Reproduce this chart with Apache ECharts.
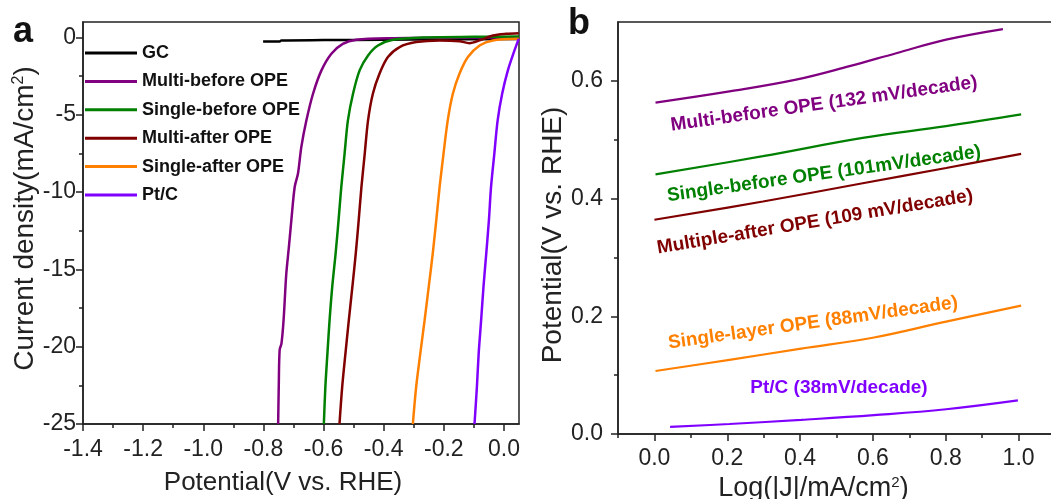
<!DOCTYPE html>
<html>
<head>
<meta charset="utf-8">
<script src="https://cdn.jsdelivr.net/npm/echarts@6/dist/echarts.min.js"></script>
<style>
  html, body { margin: 0; padding: 0; background: #fff; }
  #chart { width: 1051px; height: 499px; }
</style>
</head>
<body>
<div id="chart"></div>
<script>
// ---- panel a: polarization curves (potential V vs. RHE, current mA/cm2)
const lsvNames = ['GC', 'Multi-before OPE', 'Single-before OPE', 'Multi-after OPE', 'Single-after OPE', 'Pt/C']
const lsvColors = ['#000000', '#800080', '#008000', '#800000', '#ff8000', '#8000ff']

const gcV = [-0.801, -0.746, -0.740, -0.6, -0.4, -0.2, 0.05]
const gcJ = [-0.26, -0.26, -0.19, -0.17, -0.15, -0.12, -0.1]

const multiBeforeV = [-0.751, -0.749, -0.746, -0.740, -0.733, -0.724, -0.715, -0.707, -0.696, -0.685, -0.674, -0.657, -0.635, -0.607, -0.574, -0.536, -0.491, -0.369, -0.2, 0.05]
const multiBeforeJ = [-25, -22.6, -20.2, -19.8, -18.3, -15.3, -13.5, -11.8, -9.67, -8.8, -7.09, -5.36, -3.64, -2.13, -1.05, -0.41, -0.15, -0.05, -0.02, 0]

const singleBeforeV = [-0.599, -0.594, -0.587, -0.580, -0.571, -0.560, -0.550, -0.541, -0.530, -0.519, -0.502, -0.480, -0.452, -0.419, -0.369, -0.258, -0.1, 0.05]
const singleBeforeJ = [-25, -22.6, -20.4, -18.3, -16.1, -14.0, -11.8, -9.67, -7.51, -5.36, -3.64, -2.13, -1.16, -0.52, -0.15, 0, 0.04, 0.06]

const multiAfterV = [-0.547, -0.538, -0.527, -0.516, -0.504, -0.493, -0.483, -0.474, -0.463, -0.452, -0.436, -0.414, -0.386, -0.347, -0.292, -0.214, -0.148, -0.115, -0.081, -0.037, 0.007, 0.049]
const multiAfterJ = [-25, -22.6, -20.4, -18.3, -16.1, -14.0, -11.8, -9.67, -7.51, -5.36, -3.64, -2.35, -1.27, -0.62, -0.30, -0.19, -0.24, -0.37, -0.19, 0.13, 0.24, 0.28]

const singleAfterV = [-0.303, -0.292, -0.278, -0.264, -0.250, -0.237, -0.225, -0.214, -0.201, -0.187, -0.170, -0.148, -0.120, -0.081, -0.037, 0.049]
const singleAfterJ = [-25, -22.6, -20.4, -18.3, -16.1, -14.0, -11.8, -9.67, -7.51, -5.36, -3.64, -2.35, -1.27, -0.52, -0.19, -0.09]

const ptcV = [-0.098, -0.090, -0.084, -0.076, -0.068, -0.059, -0.050, -0.043, -0.032, -0.021, -0.006, 0.013, 0.035, 0.049]
const ptcJ = [-25, -22.6, -20.4, -18.3, -16.1, -14.0, -11.8, -9.67, -7.51, -5.36, -3.64, -2.13, -0.84, -0.09]

const aXTicks = [-1.4, -1.2, -1.0, -0.8, -0.6, -0.4, -0.2, 0.0]
const aXMinor = [-1.3, -1.1, -0.9, -0.7, -0.5, -0.3, -0.1]
const aYTicks = [-25, -20, -15, -10, -5, 0]
const aYMinor = [-22.5, -17.5, -12.5, -7.5, -2.5]

// ---- panel b: Tafel plots (log|J| vs potential)
const tafelNames = [
  'Multi-before OPE (132 mV/decade)',
  'Single-before OPE (101mV/decade)',
  'Multiple-after OPE (109 mV/decade)',
  'Single-layer OPE (88mV/decade)',
  'Pt/C (38mV/decade)'
]
const tafelColors = ['#800080', '#008000', '#800000', '#ff8000', '#8000ff']

const tMultiBeforeX = [0.003, 0.206, 0.389, 0.536, 0.664, 0.801, 0.957]
const tMultiBeforeY = [0.563, 0.582, 0.602, 0.625, 0.647, 0.670, 0.688]
const tSingleBeforeX = [0.003, 0.298, 0.572, 0.801, 1.007]
const tSingleBeforeY = [0.441, 0.472, 0.503, 0.523, 0.543]
const tMultiAfterX = [0.0, 0.298, 0.572, 0.801, 1.007]
const tMultiAfterY = [0.364, 0.395, 0.426, 0.452, 0.476]
const tSingleLayerX = [0.003, 0.206, 0.403, 0.603, 0.801, 1.007]
const tSingleLayerY = [0.107, 0.126, 0.145, 0.164, 0.191, 0.218]
const tPtcX = [0.043, 0.206, 0.403, 0.603, 0.801, 0.998]
const tPtcY = [0.012, 0.017, 0.024, 0.032, 0.042, 0.057]

const bXTicks = [0.0, 0.2, 0.4, 0.6, 0.8, 1.0]
const bXMinor = [-0.1, 0.1, 0.3, 0.5, 0.7, 0.9]
const bYTicks = [0.0, 0.2, 0.4, 0.6]
const bYMinor = [0.1, 0.3, 0.5]

// label placement for the tafel annotations (pixels, degrees)
const tafelNotes = [
  { x: 824, y: 104, rot: 8 },
  { x: 824, y: 174, rot: 8 },
  { x: 815, y: 222, rot: 9.5 },
  { x: 813, y: 323, rot: 8 },
  { x: 839, y: 388, rot: 0 }
]

const zip = (xs, ys) => xs.map((x, i) => [x, ys[i]])
const lsvData = [
  zip(gcV, gcJ), zip(multiBeforeV, multiBeforeJ), zip(singleBeforeV, singleBeforeJ),
  zip(multiAfterV, multiAfterJ), zip(singleAfterV, singleAfterJ), zip(ptcV, ptcJ)
]
const tafelData = [
  zip(tMultiBeforeX, tMultiBeforeY), zip(tSingleBeforeX, tSingleBeforeY),
  zip(tMultiAfterX, tMultiAfterY), zip(tSingleLayerX, tSingleLayerY), zip(tPtcX, tPtcY)
]

const FONT = '"Liberation Sans", Arial, sans-serif'
const INK = '#222'
const TICK_FONT = 23

function mainAxis(extra) {
  return Object.assign({
    type: 'value',
    axisLine: { show: true, onZero: false, lineStyle: { color: INK, width: 1.5 } },
    splitLine: { show: false },
    nameLocation: 'middle',
  }, extra)
}

// second axis on the same side, only used to draw the short minor ticks
function minorAxis(extra, ticks) {
  return Object.assign({
    type: 'value',
    axisLine: { show: false, onZero: false },
    splitLine: { show: false },
    axisLabel: { show: false },
    axisTick: { show: true, length: 4, customValues: ticks, lineStyle: { color: INK, width: 1.5 } },
  }, extra)
}

function majorTicks(values) {
  return { show: true, length: 7, customValues: values, lineStyle: { color: INK, width: 1.5 } }
}

const chart = echarts.init(document.getElementById('chart'))

chart.setOption({
  backgroundColor: '#fff',
  animation: false,
  grid: [
    { left: 83, right: 532, top: 22, bottom: 75, outerBoundsMode: 'none', show: true, borderColor: INK, borderWidth: 1.5 },
    { left: 618, right: -4, top: 22, bottom: 65, outerBoundsMode: 'none', show: true, borderColor: INK, borderWidth: 1.5 }
  ],
  legend: {
    data: lsvNames,
    orient: 'vertical',
    left: 85,
    top: 43,
    icon: 'rect',
    itemWidth: 52,
    itemHeight: 3,
    itemGap: 8.4,
    padding: 0,
    textStyle: { fontFamily: FONT, fontSize: 18, fontWeight: 'bold', color: '#111', lineHeight: 20 }
  },
  xAxis: [
    mainAxis({
      gridIndex: 0, min: -1.4, max: 0.05,
      name: 'Potential(V vs. RHE)', nameGap: 46,
      nameTextStyle: { fontFamily: FONT, fontSize: 26, color: INK, padding: [0, 36, 0, 0] },
      axisTick: majorTicks(aXTicks),
      axisLabel: { fontFamily: FONT, fontSize: TICK_FONT, color: INK, margin: 14, customValues: aXTicks, formatter: (v) => v.toFixed(1) }
    }),
    minorAxis({ gridIndex: 0, min: -1.4, max: 0.05, position: 'bottom' }, aXMinor),
    mainAxis({
      gridIndex: 1, min: -0.1, max: 1.1,
      name: 'Log(|J|/mA/cm{sup|2})', nameGap: 31,
      nameTextStyle: {
        fontFamily: FONT, fontSize: 27, color: INK, padding: [0, 46, 0, 0],
        rich: { sup: { fontFamily: FONT, fontSize: 15, color: INK, verticalAlign: 'top', padding: [0, 0, 12, 0] } }
      },
      axisTick: majorTicks(bXTicks),
      axisLabel: { fontFamily: FONT, fontSize: TICK_FONT, color: INK, margin: 13, customValues: bXTicks, formatter: (v) => v.toFixed(1) }
    }),
    minorAxis({ gridIndex: 1, min: -0.1, max: 1.1, position: 'bottom' }, bXMinor)
  ],
  yAxis: [
    mainAxis({
      gridIndex: 0, min: -25, max: 1,
      name: 'Current density(mA/cm{sup|2})', nameGap: 33,
      nameTextStyle: {
        fontFamily: FONT, fontSize: 28, color: INK, padding: [0, 0, 0, 9],
        rich: { sup: { fontFamily: FONT, fontSize: 16, color: INK, verticalAlign: 'top', padding: [0, 0, 12, 0] } }
      },
      axisTick: majorTicks(aYTicks),
      axisLabel: { fontFamily: FONT, fontSize: TICK_FONT, color: INK, margin: 7, customValues: aYTicks }
    }),
    minorAxis({ gridIndex: 0, min: -25, max: 1, position: 'left' }, aYMinor),
    mainAxis({
      gridIndex: 1, min: 0, max: 0.7,
      name: 'Potential(V vs. RHE)', nameGap: 48,
      nameTextStyle: { fontFamily: FONT, fontSize: 28, color: INK, padding: [0, 14, 0, 0] },
      axisTick: majorTicks(bYTicks),
      axisLabel: { fontFamily: FONT, fontSize: TICK_FONT, color: INK, margin: 15, customValues: bYTicks, formatter: (v) => v.toFixed(1) }
    }),
    minorAxis({ gridIndex: 1, min: 0, max: 0.7, position: 'left' }, bYMinor)
  ],
  series: [
    ...lsvNames.map((name, i) => ({
      name,
      type: 'line',
      xAxisIndex: 0,
      yAxisIndex: 0,
      data: lsvData[i],
      smooth: 0.3,
      showSymbol: false,
      clip: true,
      lineStyle: { color: lsvColors[i], width: 2.5 },
      itemStyle: { color: lsvColors[i] }
    })),
    ...tafelNames.map((name, i) => ({
      name,
      type: 'line',
      xAxisIndex: 2,
      yAxisIndex: 2,
      data: tafelData[i],
      smooth: 0.4,
      showSymbol: false,
      lineStyle: { color: tafelColors[i], width: 2.2 },
      itemStyle: { color: tafelColors[i] }
    }))
  ],
  graphic: [
    { type: 'text', left: 13, top: 14, style: { text: 'a', font: 'bold 36px ' + FONT, fill: '#111' } },
    { type: 'text', left: 568, top: 6, style: { text: 'b', font: 'bold 36px ' + FONT, fill: '#111' } },
    ...tafelNotes.map((n, i) => ({
      type: 'text',
      x: n.x,
      y: n.y,
      rotation: n.rot * Math.PI / 180,
      style: {
        text: tafelNames[i],
        font: 'bold 19px ' + FONT,
        fill: tafelColors[i],
        align: 'center',
        verticalAlign: 'middle'
      }
    }))
  ]
})
</script>
</body>
</html>
